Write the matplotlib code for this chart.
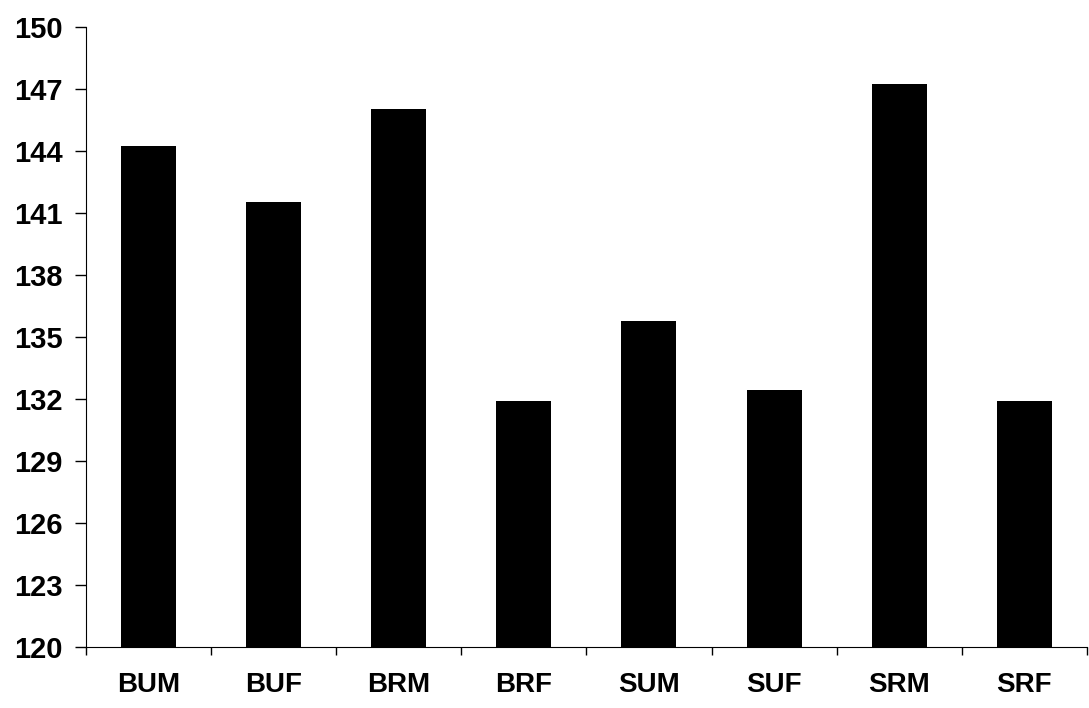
import numpy as np
import matplotlib.pyplot as plt

grupos = ['BUM', 'BUF', 'BRM', 'BRF', 'SUM', 'SUF', 'SRM', 'SRF']
valores = [144.25, 141.5, 146.0, 131.9, 135.75, 132.45, 147.25, 131.9]
yticks = [120, 123, 126, 129, 132, 135, 138, 141, 144, 147, 150]

plt.rcParams['font.family'] = ['Liberation Sans', 'DejaVu Sans']
plt.rcParams['font.weight'] = 'bold'

fig = plt.figure(figsize=(10.89, 7.08), dpi=100)
ax = fig.add_axes([0.079, 0.0862, 0.919, 0.876])

x = np.arange(len(grupos))
ax.bar(x, np.array(valores) - 120, bottom=120, width=0.44, color='black')

ax.set_ylim(120, 150)
ax.set_xlim(-0.5, len(grupos) - 0.5)
ax.set_yticks(yticks)
ax.set_yticklabels([str(t) for t in yticks], fontsize=21, fontweight='bold')

# ticks between categories, labels at category centres
ax.set_xticks(np.arange(len(grupos) + 1) - 0.5)
ax.set_xticklabels([])
ax.set_xticks(x, minor=True)
ax.set_xticklabels(grupos, minor=True, fontsize=20, fontweight='bold')
ax.tick_params(axis='x', which='minor', length=0, pad=18)
ax.tick_params(axis='x', which='major', length=6, width=1, direction='out')
ax.tick_params(axis='y', length=8, width=1, pad=9)

ax.spines['top'].set_visible(False)
ax.spines['right'].set_visible(False)

plt.savefig('out.png', dpi=100)
